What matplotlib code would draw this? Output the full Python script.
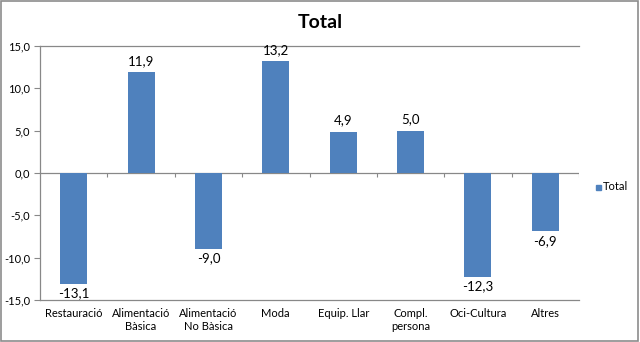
import matplotlib
matplotlib.use("Agg")
import matplotlib.pyplot as plt
import numpy as np
from matplotlib.patches import Rectangle

categories = ["Restauració", "Alimentació\nBàsica", "Alimentació\nNo Bàsica", "Moda",
              "Equip. Llar", "Compl.\npersona", "Oci-Cultura", "Altres"]
values = [-13.1, 11.9, -9.0, 13.2, 4.9, 5.0, -12.3, -6.9]
yticks = [-15, -10, -5, 0, 5, 10, 15]
series_name = "Total"

plt.rcParams['font.family'] = ['Lato', 'DejaVu Sans']
bar_color = "#4F81BD"
axis_color = "#888888"

fig = plt.figure(figsize=(6.4, 3.42), dpi=100)
ax = fig.add_axes([40/640, 42/342, (579-40)/640, (300-46)/342])

x = np.arange(len(categories))
ax.bar(x, values, width=0.4, color=bar_color, zorder=3)
ax.set_xlim(-0.5, len(categories) - 0.5)
ax.set_ylim(-15, 15)

fmt = lambda v: f"{v:.1f}".replace(".", ",")
ax.set_yticks(yticks)
ax.set_yticklabels([fmt(v) for v in yticks], fontsize=8)
ax.tick_params(axis='y', length=4, color=axis_color, width=0.8, pad=3)
ax.set_xticks(x)
ax.set_xticklabels(categories, fontsize=8, linespacing=1.2, va='top')
ax.tick_params(axis='x', length=0, pad=6)

for s in ['top', 'right']:
    ax.spines[s].set_visible(False)
for s in ['left', 'bottom']:
    ax.spines[s].set_color(axis_color)
    ax.spines[s].set_linewidth(0.9)

# gridline at top
ax.axhline(15, color=axis_color, lw=0.9, zorder=1, clip_on=False)
# zero line with category boundary ticks
ax.axhline(0, color=axis_color, lw=0.9, zorder=2)
bounds = np.arange(len(categories) + 1) - 0.5
ax.vlines(bounds[1:], -0.45, 0, color=axis_color, lw=0.8, zorder=2)

for xi, v in zip(x, values):
    if v >= 0:
        ax.text(xi, v + 0.6, fmt(v), ha='center', va='bottom', fontsize=9.5)
    else:
        ax.text(xi, v - 0.4, fmt(v), ha='center', va='top', fontsize=9.5)

fig.text(0.5, 0.935, "Total", ha='center', va='center', fontsize=14, fontweight='bold')

# legend
fig.patches.append(Rectangle((596/640, (342-190)/342), 5/640, 5/342, transform=fig.transFigure,
                             color=bar_color, figure=fig))
fig.text(603/640, (342-187)/342, series_name, fontsize=8, va='center', ha='left')

# figure border
fig.patches.append(Rectangle((0.002, 0.003), 0.995, 0.993, transform=fig.transFigure,
                             fill=False, edgecolor="#8c8c8c", lw=1.2, figure=fig))

fig.savefig("out.png", dpi=100)
